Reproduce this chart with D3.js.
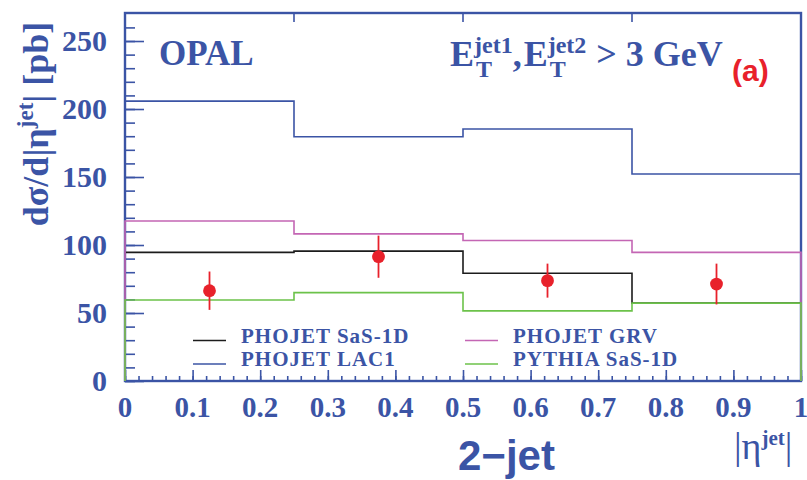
<!DOCTYPE html>
<html>
<head>
<meta charset="utf-8">
<script src="https://cdn.jsdelivr.net/npm/d3@7"></script>
<style>
  html, body { margin: 0; padding: 0; background: #fff; }
  svg { display: block; }
</style>
</head>
<body>
<svg id="chart" width="807" height="480"></svg>
<script>
// Bin edges in |eta^jet|
const binEdges = [0, 0.25, 0.5, 0.75, 1.0];

// Model predictions (pb), one value per bin
const phojetSaS = [94.6, 95.5, 79.2, 57.3];
const phojetLAC1 = [205.8, 179.6, 185.3, 152.2];
const phojetGRV = [117.6, 108.2, 103.3, 94.6];
const pythiaSaS = [59.6, 65.0, 51.6, 57.3];

// OPAL data points
const dataX = [0.125, 0.375, 0.625, 0.875];
const dataY = [66.4, 91.4, 73.8, 71.3];
const dataErr = [14.1, 15.5, 12.5, 15.0];

// Axis ticks
const xTicks = [0, 0.1, 0.2, 0.3, 0.4, 0.5, 0.6, 0.7, 0.8, 0.9, 1];
const xTickLabels = ["0", "0.1", "0.2", "0.3", "0.4", "0.5", "0.6", "0.7", "0.8", "0.9", "1"];
const yTicks = [0, 50, 100, 150, 200, 250];
const yTickLabels = ["0", "50", "100", "150", "200", "250"];

const BLUE = "#3b54a5";
const series = [
  { name: "PHOJET SaS-1D", values: phojetSaS, color: "#1c1c1c" },
  { name: "PHOJET LAC1", values: phojetLAC1, color: BLUE },
  { name: "PHOJET GRV", values: phojetGRV, color: "#c466b4" },
  { name: "PYTHIA SaS-1D", values: pythiaSaS, color: "#6cc24a" }
];

const svg = d3.select("#chart");
const x = d3.scaleLinear().domain([0, 1]).range([125, 801]);
const y = d3.scaleLinear().domain([0, 270.6]).range([381, 13]);

const serif = "'Liberation Serif', 'Times New Roman', serif";
const sans = "'Liberation Sans', Arial, sans-serif";

// Minor ticks (drawn inward)
const xMinor = d3.range(0, 1.0001, 0.02).map(v => +v.toFixed(2));
const yMinor = d3.range(0, 270, 10);

const gx = svg.append("g").attr("transform", `translate(0,${y(0)})`);
gx.call(d3.axisBottom(x).tickValues(xMinor).tickSize(-5).tickFormat(""))
  .call(g => g.select(".domain").remove());
gx.append("g").call(d3.axisBottom(x).tickValues(xTicks).tickSize(-11).tickFormat(""))
  .call(g => g.select(".domain").remove());
gx.selectAll("line").attr("stroke", BLUE).attr("stroke-width", 1.6);

const gy = svg.append("g").attr("transform", `translate(${x(0)},0)`);
gy.call(d3.axisLeft(y).tickValues(yMinor).tickSize(-10).tickFormat(""))
  .call(g => g.select(".domain").remove());
gy.append("g").call(d3.axisLeft(y).tickValues(yTicks).tickSize(-19).tickFormat(""))
  .call(g => g.select(".domain").remove());
gy.selectAll("line").attr("stroke", BLUE).attr("stroke-width", 1.6);

// Small ticks hanging from the top edge at bin boundaries
svg.append("g").selectAll("line").data(binEdges.slice(1, -1)).join("line")
  .attr("x1", d => x(d)).attr("x2", d => x(d))
  .attr("y1", y.range()[1]).attr("y2", y.range()[1] + 9)
  .attr("stroke", BLUE).attr("stroke-width", 1.6);

// Frame
svg.append("rect")
  .attr("x", x(0)).attr("y", y.range()[1])
  .attr("width", x(1) - x(0)).attr("height", y(0) - y.range()[1])
  .attr("fill", "none").attr("stroke", BLUE).attr("stroke-width", 2.4);

// Tick labels
svg.append("g").selectAll("text").data(xTicks).join("text")
  .attr("x", d => x(d)).attr("y", 417)
  .attr("text-anchor", "middle")
  .attr("font-family", serif).attr("font-weight", "bold").attr("font-size", 29)
  .attr("fill", BLUE)
  .text((d, i) => xTickLabels[i]);

svg.append("g").selectAll("text").data(yTicks).join("text")
  .attr("x", 107).attr("y", d => y(d))
  .attr("dy", "0.34em")
  .attr("text-anchor", "end")
  .attr("font-family", serif).attr("font-weight", "bold").attr("font-size", 30)
  .attr("fill", BLUE)
  .text((d, i) => yTickLabels[i]);

// Histograms
function histPath(vals) {
  const p = d3.path();
  p.moveTo(x(binEdges[0]), y(0));
  vals.forEach((v, i) => {
    p.lineTo(x(binEdges[i]), y(v));
    p.lineTo(x(binEdges[i + 1]), y(v));
  });
  p.lineTo(x(binEdges[binEdges.length - 1]), y(0));
  return p.toString();
}
svg.append("g").selectAll("path").data(series).join("path")
  .attr("d", d => histPath(d.values))
  .attr("fill", "none")
  .attr("stroke", d => d.color)
  .attr("stroke-width", 1.6);

// Data points with error bars
const pts = svg.append("g");
pts.selectAll("line").data(dataX).join("line")
  .attr("x1", d => x(d)).attr("x2", d => x(d))
  .attr("y1", (d, i) => y(dataY[i] + dataErr[i]))
  .attr("y2", (d, i) => y(dataY[i] - dataErr[i]))
  .attr("stroke", "#e8212b").attr("stroke-width", 1.8);
pts.selectAll("circle").data(dataX).join("circle")
  .attr("cx", d => x(d)).attr("cy", (d, i) => y(dataY[i]))
  .attr("r", 6.4).attr("fill", "#e8212b");

// Legend (two columns, two rows)
const legendPos = [
  { lx: 193, ty: 342.5 }, { lx: 193, ty: 366 },
  { lx: 465, ty: 342.5 }, { lx: 465, ty: 366 }
];
const leg = svg.append("g").selectAll("g").data(series).join("g");
leg.append("line")
  .attr("x1", (d, i) => legendPos[i].lx).attr("x2", (d, i) => legendPos[i].lx + 33)
  .attr("y1", (d, i) => legendPos[i].ty - 2).attr("y2", (d, i) => legendPos[i].ty - 2)
  .attr("stroke", d => d.color).attr("stroke-width", 1.6);
leg.append("text")
  .attr("x", (d, i) => legendPos[i].lx + 48).attr("y", (d, i) => legendPos[i].ty)
  .attr("font-family", serif).attr("font-weight", "bold").attr("font-size", 21)
  .attr("letter-spacing", 1)
  .attr("fill", BLUE)
  .text(d => d.name);

// OPAL label
svg.append("text").attr("x", 159).attr("y", 65)
  .attr("font-family", serif).attr("font-weight", "bold").attr("font-size", 35)
  .attr("fill", BLUE).text("OPAL");

// Cut label: E_T^jet1, E_T^jet2 > 3 GeV, with stacked sub/superscripts
(function () {
  const g = svg.append("g").attr("font-family", serif).attr("font-weight", "bold").attr("fill", BLUE);
  let cx = 450;
  const base = 66;
  function put(txt, size, dy) {
    const t = g.append("text").attr("x", cx).attr("y", base + dy).attr("font-size", size).text(txt);
    return t.node().getComputedTextLength();
  }
  function eWithIndices(sup) {
    cx += put("E", 36, 0);
    const w1 = put(sup, 24, -13);
    cx += 2;
    const w2 = put("T", 24, 11);
    cx += Math.max(w1 - 2, w2);
  }
  eWithIndices("jet1");
  cx += put(",", 36, 0) + 2;
  eWithIndices("jet2");
  cx += 10;
  put("> 3 GeV", 36, 0);
})();

svg.append("text").attr("x", 732).attr("y", 81)
  .attr("font-family", sans).attr("font-weight", "bold").attr("font-size", 30)
  .attr("fill", "#e8212b").text("(a)");

// Axis titles
svg.append("text").attr("x", 458).attr("y", 470)
  .attr("font-family", sans).attr("font-weight", "bold").attr("font-size", 42)
  .attr("fill", BLUE).text("2\u2212jet");

const xt = svg.append("text").attr("x", 734).attr("y", 459)
  .attr("font-family", serif).attr("font-size", 38).attr("fill", BLUE);
xt.append("tspan").text("|\u03b7");
xt.append("tspan").attr("dy", -14).attr("font-size", 21).attr("font-weight", "bold").text("jet");
xt.append("tspan").attr("dy", 14).text("|");

const yt = svg.append("text")
  .attr("transform", "translate(48,124) rotate(-90)")
  .attr("text-anchor", "middle")
  .attr("font-family", serif).attr("font-weight", "bold").attr("font-size", 36)
  .attr("fill", BLUE);
yt.append("tspan").text("d\u03c3/d|\u03b7");
yt.append("tspan").attr("dy", -15).attr("font-size", 23).text("jet");
yt.append("tspan").attr("dy", 15).text("| [pb]");
</script>
</body>
</html>
